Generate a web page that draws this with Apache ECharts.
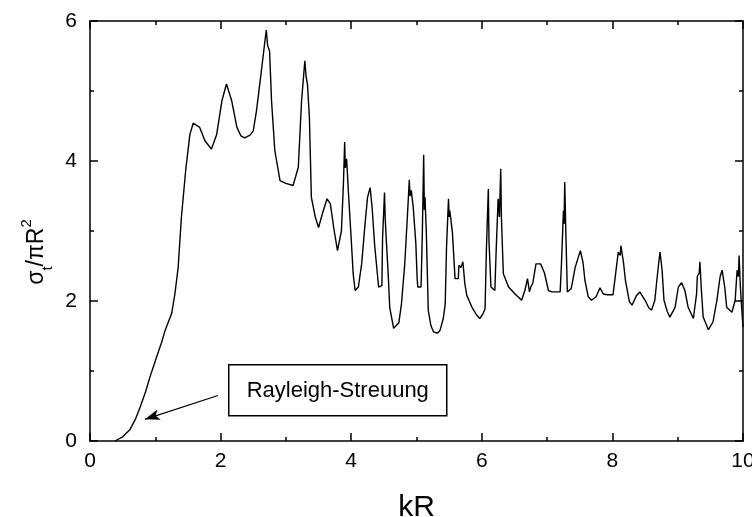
<!DOCTYPE html>
<html>
<head>
<meta charset="utf-8">
<script src="https://cdn.jsdelivr.net/npm/echarts@6/dist/echarts.min.js"></script>
<style>
html,body{margin:0;padding:0;background:#fff;}
#chart{width:752px;height:517px;}
</style>
</head>
<body>
<div id="chart"></div>
<script>
// kR values (x) and normalised extinction cross-section sigma_t/(pi R^2) (y)
const kR = [
0.38,0.50,0.61,0.70,0.77,0.85,0.92,1.02,1.10,1.15,1.25,1.30,1.35,1.40,1.47,1.53,1.58,1.61,1.68,1.76,
1.86,1.94,2.02,2.09,2.17,2.25,2.31,2.37,2.45,2.50,2.55,2.63,2.69,2.70,2.72,2.75,2.78,2.83,2.91,3.00,
3.11,3.19,3.24,3.29,3.31,3.33,3.36,3.39,3.45,3.50,3.56,3.63,3.68,3.74,3.79,3.85,3.88,3.90,3.91,3.93,
3.96,4.00,4.03,4.06,4.11,4.16,4.21,4.25,4.29,4.32,4.36,4.42,4.47,4.48,4.51,4.52,4.53,4.57,4.59,4.65,
4.73,4.77,4.82,4.86,4.89,4.90,4.92,4.95,4.99,5.01,5.02,5.07,5.09,5.11,5.12,5.13,5.15,5.18,5.22,5.26,
5.32,5.36,5.41,5.44,5.46,5.49,5.50,5.51,5.55,5.59,5.64,5.65,5.68,5.71,5.74,5.77,5.85,5.92,5.97,6.02,
6.05,6.07,6.10,6.11,6.14,6.20,6.22,6.25,6.27,6.29,6.30,6.33,6.41,6.51,6.61,6.66,6.70,6.73,6.75,6.78,
6.83,6.90,6.96,7.02,7.07,7.20,7.22,7.25,7.26,7.27,7.29,7.31,7.37,7.43,7.48,7.51,7.55,7.58,7.63,7.68,
7.75,7.81,7.86,7.92,8.01,8.04,8.09,8.12,8.13,8.17,8.20,8.26,8.30,8.37,8.42,8.50,8.56,8.60,8.65,8.68,
8.71,8.73,8.76,8.79,8.84,8.88,8.96,9.01,9.06,9.11,9.16,9.24,9.29,9.30,9.33,9.34,9.36,9.39,9.47,9.54,
9.60,9.65,9.68,9.72,9.75,9.83,9.88,9.90,9.91,9.93,9.94,9.96,9.98,10.00
];
const sigma = [
0.00,0.06,0.16,0.32,0.49,0.70,0.92,1.20,1.42,1.58,1.82,2.10,2.48,3.20,3.91,4.38,4.54,4.56,4.48,4.29,
4.17,4.38,4.86,5.10,4.86,4.48,4.36,4.33,4.37,4.43,4.72,5.33,5.80,5.87,5.65,5.57,4.86,4.15,3.72,3.68,
3.65,3.91,4.86,5.43,5.20,5.10,4.62,3.48,3.20,3.05,3.25,3.46,3.39,3.00,2.72,3.00,3.65,4.27,3.90,4.03,
3.51,2.89,2.39,2.15,2.20,2.53,3.08,3.48,3.62,3.34,2.79,2.20,2.22,2.89,3.55,3.20,3.00,2.32,1.91,1.61,
1.69,1.96,2.53,3.20,3.73,3.50,3.58,3.34,2.82,2.32,2.20,2.20,3.00,4.09,3.30,3.48,3.00,1.87,1.65,1.56,
1.54,1.58,1.75,1.96,2.77,3.46,3.20,3.29,2.98,2.32,2.32,2.51,2.48,2.56,2.25,2.08,1.91,1.80,1.75,1.82,
1.89,2.72,3.60,2.86,2.20,2.15,2.72,3.46,3.20,3.89,3.20,2.39,2.20,2.10,2.01,2.15,2.32,2.13,2.20,2.25,
2.53,2.53,2.40,2.15,2.13,2.13,2.53,3.29,3.10,3.70,2.86,2.13,2.18,2.48,2.63,2.72,2.55,2.29,2.06,2.01,
2.06,2.19,2.10,2.09,2.09,2.32,2.70,2.65,2.79,2.55,2.29,1.99,1.94,2.08,2.13,2.01,1.90,1.87,2.01,2.29,
2.55,2.70,2.45,2.01,1.85,1.77,1.91,2.20,2.26,2.15,1.91,1.75,2.11,2.35,2.40,2.56,2.20,1.77,1.59,1.70,
2.01,2.35,2.44,2.20,1.91,1.84,2.01,2.30,2.44,2.35,2.65,2.20,1.90,1.63
];
// annotation: arrow from text box to the Rayleigh region (data coordinates)
const arrowFrom = [1.96, 0.65];
const arrowTo = [0.84, 0.31];
const annotationText = 'Rayleigh-Streuung';
const xName = 'kR';

const xTicks = {min:0, max:10, interval:2};
const yTicks = {min:0, max:6, interval:2};

const curve = kR.map((x,i)=>[x, sigma[i]]);
const FONT = 'Liberation Sans, Arial, sans-serif';

function frame(extra){
  const base = {
    axisLine:{show:true, onZero:false, lineStyle:{color:'#000', width:1.5}},
    axisTick:{show:true, inside:true, length:8, lineStyle:{color:'#000', width:1.5}},
    minorTick:{show:true, splitNumber:2, length:4, lineStyle:{color:'#000', width:1.5}},
    splitLine:{show:false},
    minorSplitLine:{show:false}
  };
  return Object.assign(base, extra);
}

const chart = echarts.init(document.getElementById('chart'), null, {renderer:'canvas'});
chart.setOption({
  animation:false,
  backgroundColor:'#fff',
  grid:{left:90, right:9, top:21, bottom:76, containLabel:false, outerBoundsMode:'none'},
  xAxis:[
    frame({type:'value', position:'bottom', min:xTicks.min, max:xTicks.max, interval:xTicks.interval,
      name:xName, nameLocation:'middle', nameGap:52,
      nameTextStyle:{fontFamily:FONT, fontSize:30, color:'#000'},
      axisLabel:{fontFamily:FONT, fontSize:21, color:'#000', margin:10}}),
    frame({type:'value', position:'top', min:xTicks.min, max:xTicks.max, interval:xTicks.interval,
      axisLabel:{show:false}})
  ],
  yAxis:[
    frame({type:'value', position:'left', min:yTicks.min, max:yTicks.max, interval:yTicks.interval,
      axisLabel:{fontFamily:FONT, fontSize:21, color:'#000', margin:13}}),
    frame({type:'value', position:'right', min:yTicks.min, max:yTicks.max, interval:yTicks.interval,
      axisLabel:{show:false}})
  ],
  series:[{
    type:'line', data:curve, xAxisIndex:0, yAxisIndex:0,
    showSymbol:false, symbol:'none', smooth:false,
    lineStyle:{color:'#000', width:1.4},
    silent:true,
    markLine:{
      silent:true, animation:false,
      symbol:['none','arrow'], symbolSize:[8,15],
      label:{show:false},
      lineStyle:{color:'#000', width:1.3, type:'solid'},
      emphasis:{disabled:true},
      data:[[{coord:arrowFrom},{coord:arrowTo}]]
    }
  }],
  graphic:[
    {
      type:'group', left:228, top:364,
      children:[
        {type:'rect', shape:{x:0, y:0, width:218, height:51}, style:{fill:'#fff', stroke:'#000', lineWidth:1.5}},
        {type:'text', x:109, y:26, style:{text:annotationText, fontFamily:FONT, fontSize:22, fill:'#000', align:'center', verticalAlign:'middle'}}
      ]
    },
    {
      type:'text', x:37, y:252, rotation:Math.PI/2,
      style:{
        text:'{a|σ}{b|t}{a|/πR}{c|2}',
        align:'center', verticalAlign:'middle',
        fontFamily:FONT, fontSize:23, fill:'#000',
        rich:{
          a:{fontFamily:FONT, fontSize:23, fill:'#000', color:'#000', verticalAlign:'middle', lineHeight:36},
          b:{fontFamily:FONT, fontSize:15, fill:'#000', color:'#000', verticalAlign:'bottom', lineHeight:36},
          c:{fontFamily:FONT, fontSize:15, fill:'#000', color:'#000', verticalAlign:'top', lineHeight:36}
        }
      }
    }
  ]
});
</script>
</body>
</html>
